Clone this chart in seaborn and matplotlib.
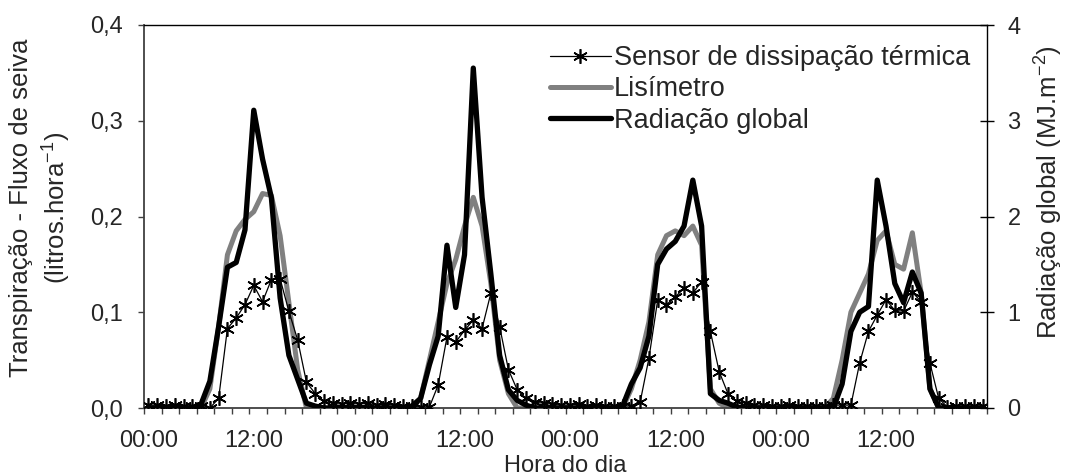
import numpy as np
import pandas as pd
import matplotlib
matplotlib.use("Agg")
import matplotlib.pyplot as plt
import seaborn as sns
from matplotlib.lines import Line2D
from matplotlib.ticker import FixedLocator

# ---------------- data (hourly, 4 days) ----------------
hours = list(range(96))

sensor = [
    0.003, 0.003, 0.002, 0.003, 0.002, 0.002, 0.002, 0.000,
    0.010, 0.083, 0.094, 0.108, 0.128, 0.111, 0.134, 0.135,
    0.101, 0.071, 0.027, 0.015, 0.007, 0.005, 0.004, 0.005,
    0.004, 0.005, 0.003, 0.004, 0.003, 0.002, 0.002, 0.001,
    0.001, 0.024, 0.074, 0.069, 0.081, 0.092, 0.083, 0.120,
    0.085, 0.040, 0.019, 0.010, 0.006, 0.005, 0.004, 0.003,
    0.003, 0.004, 0.002, 0.003, 0.002, 0.002, 0.002, 0.002,
    0.006, 0.052, 0.113, 0.108, 0.116, 0.125, 0.120, 0.132,
    0.080, 0.038, 0.015, 0.007, 0.005, 0.003, 0.003, 0.002,
    0.002, 0.003, 0.002, 0.002, 0.002, 0.002, 0.003, 0.003,
    0.003, 0.047, 0.080, 0.097, 0.113, 0.102, 0.101, 0.121,
    0.111, 0.047, 0.010, 0.001, 0.002, 0.002, 0.002, 0.002,
]

lisimetro = [
    0.0, 0.0, 0.0, 0.0, 0.0, 0.0, 0.0, 0.020,
    0.085, 0.160, 0.185, 0.197, 0.205, 0.224, 0.222, 0.180,
    0.110, 0.040, 0.0, 0.0, 0.0, 0.0, 0.0, 0.0,
    0.0, 0.0, 0.0, 0.0, 0.0, 0.0, 0.0, 0.010,
    0.050, 0.090, 0.130, 0.155, 0.190, 0.220, 0.190, 0.130,
    0.050, 0.015, 0.0, 0.0, 0.0, 0.0, 0.0, 0.0,
    0.0, 0.0, 0.0, 0.0, 0.0, 0.0, 0.0, 0.020,
    0.050, 0.090, 0.160, 0.180, 0.185, 0.180, 0.190, 0.170,
    0.020, 0.005, 0.0, 0.0, 0.0, 0.0, 0.0, 0.0,
    0.0, 0.0, 0.0, 0.0, 0.0, 0.0, 0.010, 0.050,
    0.100, 0.120, 0.140, 0.175, 0.185, 0.150, 0.145, 0.183,
    0.120, 0.020, 0.0, 0.0, 0.0, 0.0, 0.0, 0.0,
]

radiacao = [
    0.0, 0.0, 0.0, 0.0, 0.0, 0.0, 0.04, 0.28,
    0.85, 1.47, 1.52, 1.86, 3.11, 2.60, 2.20, 1.15,
    0.55, 0.30, 0.05, 0.02, 0.0, 0.0, 0.0, 0.0,
    0.0, 0.0, 0.0, 0.0, 0.0, 0.0, 0.02, 0.10,
    0.45, 0.75, 1.70, 1.05, 1.60, 3.55, 2.20, 1.40,
    0.55, 0.19, 0.08, 0.03, 0.0, 0.0, 0.0, 0.0,
    0.0, 0.0, 0.0, 0.0, 0.0, 0.0, 0.02, 0.25,
    0.42, 0.75, 1.50, 1.66, 1.74, 1.90, 2.38, 1.90,
    0.15, 0.08, 0.05, 0.01, 0.0, 0.0, 0.0, 0.0,
    0.0, 0.0, 0.0, 0.0, 0.0, 0.0, 0.0, 0.25,
    0.80, 1.00, 1.06, 2.38, 1.90, 1.30, 1.10, 1.42,
    1.20, 0.20, 0.0, 0.0, 0.0, 0.0, 0.0, 0.0,
]

x_tick_pos = [0, 12, 24, 36, 48, 60, 72, 84]
x_tick_labels = ["00:00", "12:00", "00:00", "12:00", "00:00", "12:00", "00:00", "12:00"]
y_left_ticks = [0.0, 0.1, 0.2, 0.3, 0.4]
y_left_labels = ["0,0", "0,1", "0,2", "0,3", "0,4"]
y_right_ticks = [0, 1, 2, 3, 4]
y_right_labels = ["0", "1", "2", "3", "4"]

series_names = ["Sensor de dissipação térmica", "Lisímetro", "Radiação global"]

# ---------------- style ----------------
sns.set_theme(style="white")
plt.rcParams["font.family"] = ["Liberation Sans", "DejaVu Sans"]
plt.rcParams["mathtext.fontset"] = "custom"
plt.rcParams["mathtext.rm"] = "Liberation Sans"
plt.rcParams["mathtext.default"] = "regular"

FS = 17
FSL = 18.5
GREY = "#808080"
AXC = "#404040"
STAR = (6, 2, 0)

df = pd.DataFrame({"hora": hours, "sensor": sensor, "lis": lisimetro, "rad": radiacao})

fig, ax = plt.subplots(figsize=(10.66, 4.75), dpi=100)
fig.subplots_adjust(left=144 / 1066, right=987 / 1066, top=1 - 25 / 475, bottom=1 - 408 / 475)

sns.lineplot(data=df, x="hora", y="lis", ax=ax, color=GREY, linewidth=3.6, zorder=2)
sns.lineplot(data=df, x="hora", y="sensor", ax=ax, color="black", linewidth=0.9,
             marker=STAR, markersize=10.5, markeredgewidth=1.2, markeredgecolor="black", zorder=3)
ax2 = ax.twinx()
sns.lineplot(data=df, x="hora", y="rad", ax=ax2, color="black", linewidth=3.8, zorder=4)

ax.set_xlim(-0.5, 95.5)
ax.set_ylim(0, 0.4)
ax2.set_ylim(0, 4)

# x ticks
ax.set_xticks(x_tick_pos)
ax.set_xticklabels(x_tick_labels, fontsize=FS)
ax.xaxis.set_minor_locator(FixedLocator(np.arange(-0.5, 96, 2)))
ax.tick_params(axis="x", which="major", length=0, pad=16, bottom=True)
ax.tick_params(axis="x", which="minor", length=4.5, width=1.0, color=AXC, direction="out", bottom=True)

# left y
ax.set_yticks(y_left_ticks)
ax.set_yticklabels(y_left_labels, fontsize=FS)
ax.tick_params(axis="y", which="major", length=4, width=1.0, color=AXC, direction="out", left=True, pad=11)

# right y
ax2.set_yticks(y_right_ticks)
ax2.set_yticklabels(y_right_labels, fontsize=FS)
ax2.tick_params(axis="y", which="major", length=9.5, width=1.0, color="black", direction="inout", right=True, pad=10)

# spines
for s in ["left", "bottom"]:
    ax.spines[s].set_color(AXC)
    ax.spines[s].set_linewidth(1.3)
ax.spines["top"].set_color("black")
ax.spines["top"].set_linewidth(1.0)
ax.spines["right"].set_visible(False)
for s in ["left", "top", "bottom"]:
    ax2.spines[s].set_visible(False)
ax2.spines["right"].set_color("black")
ax2.spines["right"].set_linewidth(1.0)

# labels
ax.set_xlabel("Hora do dia", fontsize=FS)
ax.xaxis.label.set(va="center")
ax.xaxis.set_label_coords(0.5, -(466 - 408) / 383)

ax.set_ylabel("Transpiração - Fluxo de seiva\n(litros.hora$^{-1}$)", fontsize=FSL, linespacing=1.3)
ax.yaxis.label.set(va="center", ha="center", multialignment="center")
ax.yaxis.set_label_coords((41 - 144) / 843, (408 - 208) / 383)

ax2.set_ylabel("Radiação global (MJ.m$^{-2}$)", fontsize=FSL)
ax2.yaxis.label.set(va="center", ha="center")
ax2.yaxis.set_label_coords((1049 - 144) / 843, (408 - 192) / 383)

# legend
handles = [
    Line2D([], [], color="black", linewidth=0.9, marker=STAR, markersize=10.5, markeredgewidth=1.2),
    Line2D([], [], color=GREY, linewidth=3.6),
    Line2D([], [], color="black", linewidth=3.8),
]
ax2.legend(handles, series_names, loc="upper left", bbox_to_anchor=(550 / 1066, 1 - 45 / 475),
           bbox_transform=fig.transFigure, frameon=False, fontsize=19.5, borderpad=0,
           borderaxespad=0, handlelength=2.25, handletextpad=0.1, labelspacing=0.2)

ax.grid(False)
ax2.grid(False)

fig.savefig("out.png", dpi=100)
